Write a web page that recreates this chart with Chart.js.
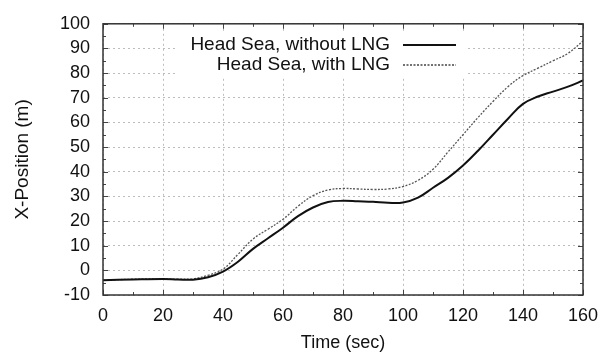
<!DOCTYPE html>
<html>
<head>
<meta charset="utf-8">
<script src="https://cdn.jsdelivr.net/npm/chart.js@4/dist/chart.umd.min.js"></script>
<style>
  html, body { margin: 0; padding: 0; background: #fff; }
  #wrap { width: 612px; height: 354px; }
</style>
</head>
<body>
<div id="wrap"><canvas id="myChart" width="612" height="354"></canvas></div>
<script>
// time axis (sec)
const times = [0, 10, 20, 25, 30, 35, 40, 45, 50, 55, 60, 65, 70, 75, 80, 85, 90, 95, 100,
               105, 110, 115, 120, 125, 130, 135, 140, 145, 150, 155, 160];

// X-Position (m)
const withoutLNG = [-4, -3.7, -3.5, -3.7, -3.8, -2.8, -0.5, 3.5, 8.7, 13, 17.3, 22, 25.5, 27.7, 28.2, 28, 27.8, 27.4, 27.5,
                    29.5, 33.5, 37.5, 42.5, 48.5, 55, 61.5, 67.5, 70.5, 72.5, 74.5, 77];
const withLNG = [-4, -3.6, -3.5, -3.6, -3.4, -2, 0.5, 6.5, 12.7, 16.7, 20.7, 26, 30.3, 32.6, 33.2, 33, 32.8, 33, 34,
                 36.5, 41, 48, 55, 62, 68.5, 74.5, 79, 82, 85, 88, 93];

const seriesNames = ['Head Sea, without LNG', 'Head Sea, with LNG'];
const yTicks = [-10, 0, 10, 20, 30, 40, 50, 60, 70, 80, 90, 100];
const xTicks = [0, 20, 40, 60, 80, 100, 120, 140, 160];

const FONT = '"Liberation Sans", Arial, sans-serif';

function toPoints(ys) {
    return times.map((t, i) => ({x: t, y: ys[i]}));
}

// key box, frame and inward ticks, gnuplot style
const keyPlugin = {
    id: 'key',
    beforeDatasetsDraw(chart) {
        const c = chart.ctx;
        c.save();
        c.fillStyle = '#fff';
        c.fillRect(175, 32, 290, 46);
        c.restore();
    },
    afterDraw(chart) {
        const c = chart.ctx;
        const a = chart.chartArea;
        const xs = chart.scales.x, ys = chart.scales.y;
        c.save();
        c.strokeStyle = '#444';
        c.lineWidth = 1;
        c.beginPath();
        for (let v = -10; v <= 100; v += 5) {
            const y = Math.round(ys.getPixelForValue(v)) + 0.5;
            const len = v % 10 === 0 ? 5 : 3;
            c.moveTo(a.left, y); c.lineTo(a.left + len, y);
            c.moveTo(a.right, y); c.lineTo(a.right - len, y);
        }
        for (let v = 0; v <= 160; v += 10) {
            const x = Math.round(xs.getPixelForValue(v)) + 0.5;
            const len = v % 20 === 0 ? 5 : 3;
            c.moveTo(x, a.bottom); c.lineTo(x, a.bottom - len);
            c.moveTo(x, a.top); c.lineTo(x, a.top + len);
        }
        c.stroke();
        // frame
        c.strokeStyle = '#333';
        c.lineWidth = 1.5;
        c.strokeRect(a.left, a.top, a.right - a.left, a.bottom - a.top);
        // key
        c.font = '19px ' + FONT;
        c.fillStyle = '#111';
        c.textAlign = 'right';
        c.textBaseline = 'middle';
        c.fillText(seriesNames[0], 390, 45);
        c.fillText(seriesNames[1], 390, 65);
        c.strokeStyle = '#111';
        c.lineWidth = 2;
        c.beginPath(); c.moveTo(403, 45); c.lineTo(456, 45); c.stroke();
        c.strokeStyle = '#444';
        c.lineWidth = 1.3;
        c.setLineDash([2, 1.5]);
        c.beginPath(); c.moveTo(403, 65); c.lineTo(456, 65); c.stroke();
        c.restore();
    }
};

const ctx = document.getElementById('myChart').getContext('2d');
const chart = new Chart(ctx, {
    type: 'line',
    data: {
        datasets: [
            {
                label: seriesNames[0],
                data: toPoints(withoutLNG),
                borderColor: '#111',
                borderWidth: 2,
                pointRadius: 0,
                tension: 0.4,
                fill: false
            },
            {
                label: seriesNames[1],
                data: toPoints(withLNG),
                borderColor: '#555',
                borderWidth: 1.3,
                borderDash: [2, 1.5],
                pointRadius: 0,
                tension: 0.4,
                fill: false
            }
        ]
    },
    options: {
        responsive: false,
        animation: false,
        layout: { padding: { left: 0, right: 29, top: 20, bottom: 0 } },
        plugins: {
            legend: { display: false },
            tooltip: { enabled: false }
        },
        scales: {
            x: {
                type: 'linear',
                min: 0,
                max: 160,
                afterBuildTicks: s => { s.ticks = xTicks.map(v => ({value: v})); },
                afterFit: s => { s.height = 59; },
                grid: {
                    color: '#bdbdbd',
                    drawTicks: false
                },
                border: { display: false, dash: [2, 3] },
                ticks: {
                    autoSkip: false,
                    maxRotation: 0,
                    padding: 10,
                    color: '#111',
                    font: { family: FONT, size: 18 }
                },
                title: {
                    display: true,
                    text: 'Time (sec)',
                    color: '#111',
                    font: { family: FONT, size: 18 },
                    padding: { top: 8, bottom: 0 }
                }
            },
            y: {
                min: -10,
                max: 100,
                afterBuildTicks: s => { s.ticks = yTicks.map(v => ({value: v})); },
                afterFit: s => { s.width = 103; },
                grid: {
                    color: '#bdbdbd',
                    drawTicks: false
                },
                border: { display: false, dash: [2, 3] },
                ticks: {
                    autoSkip: false,
                    padding: 13,
                    color: '#111',
                    font: { family: FONT, size: 18 }
                },
                title: {
                    display: true,
                    text: 'X-Position (m)',
                    color: '#111',
                    font: { family: FONT, size: 19 },
                    padding: { top: 11, bottom: 0 }
                }
            }
        }
    },
    plugins: [keyPlugin]
});
</script>
</body>
</html>
